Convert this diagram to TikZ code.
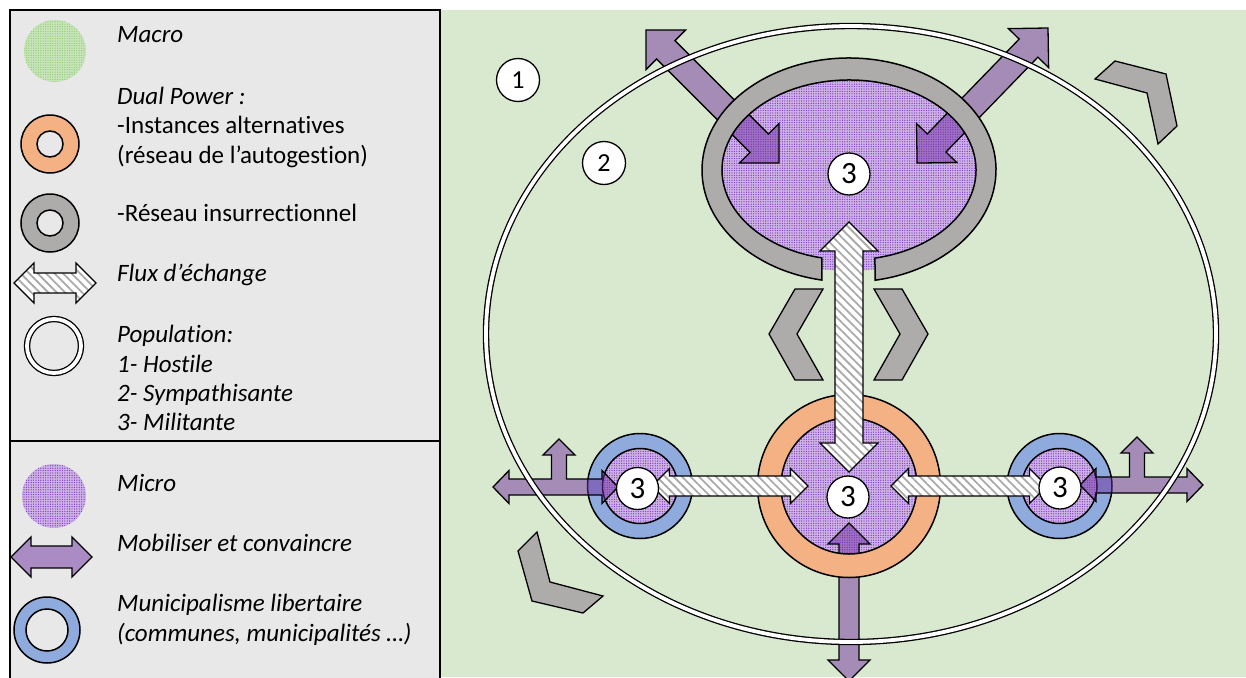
\documentclass[tikz,border=0pt]{standalone}
\usepackage{fontspec}
\setmainfont{Carlito}[Ligatures={NoCommon}]
\usetikzlibrary{patterns.meta,calc}

\definecolor{bgGreen}{RGB}{217,233,207}
\definecolor{legGray}{RGB}{232,232,232}
\definecolor{ringGray}{RGB}{174,171,171}
\definecolor{ringOrange}{RGB}{244,177,131}
\definecolor{ringBlue}{RGB}{143,170,220}
\definecolor{mobPurple}{RGB}{112,48,160}
\definecolor{microBase}{RGB}{206,178,234}
\definecolor{microDot}{RGB}{125,55,185}
\definecolor{macroBase}{RGB}{200,228,186}
\definecolor{macroDot}{RGB}{140,200,110}
\definecolor{hatchGray}{RGB}{170,170,170}

% horizontal double block arrow: style, left tip x, right tip x, y, shaft half width, head half width
\newcommand\hblock[6]{%
  \path[#1] (#2,#4) -- ({#2+#6},{#4-#6}) -- ({#2+#6},{#4-#5}) -- ({#3-#6},{#4-#5})
    -- ({#3-#6},{#4-#6}) -- (#3,#4) -- ({#3-#6},{#4+#6}) -- ({#3-#6},{#4+#5})
    -- ({#2+#6},{#4+#5}) -- ({#2+#6},{#4+#6}) -- cycle;}
% vertical double block arrow: style, x, top tip y, bottom tip y, shaft half width, head half width
\newcommand\vblock[6]{%
  \path[#1] (#2,#3) -- ({#2+#6},{#3+#6}) -- ({#2+#5},{#3+#6}) -- ({#2+#5},{#4-#6})
    -- ({#2+#6},{#4-#6}) -- (#2,#4) -- ({#2-#6},{#4-#6}) -- ({#2-#5},{#4-#6})
    -- ({#2-#5},{#3+#6}) -- ({#2-#6},{#3+#6}) -- cycle;}
% slanted double block arrow: style, start tip, rotation, length, shaft half width, head half width
\newcommand\dblock[6]{%
  \path[#1, shift={#2}, rotate=#3] (0,0) -- (#6,-#6) -- (#6,-#5) -- ({#4-#6},-#5)
    -- ({#4-#6},-#6) -- (#4,0) -- ({#4-#6},#6) -- ({#4-#6},#5) -- (#6,#5) -- (#6,#6) -- cycle;}

\begin{document}
\begin{tikzpicture}[x=1pt,y=-1pt,
  edge/.style={draw=black, line width=1.3pt},
  ring/.style={edge, line width=1.5pt, even odd rule},
  microfill/.style={fill=microBase, postaction={pattern={Dots[distance=2.4pt,radius=0.65pt]}, pattern color=microDot}},
  macrofill/.style={fill=macroBase, postaction={pattern={Dots[distance=2.4pt,radius=0.6pt]}, pattern color=macroDot}},
  mobarrow/.style={edge, fill=mobPurple, fill opacity=0.5},
  fluxarrow/.style={edge, preaction={fill=white}, pattern={Lines[angle=-45,distance=6pt,line width=1.8pt]}, pattern color=hatchGray},
  chev/.style={edge, fill=ringGray},
  popline/.style={draw=black, line width=1.3pt, double=white, double distance=3.8pt},
  numc/.style={circle, edge, fill=white, minimum size=42pt, inner sep=0pt, font=\fontsize{31}{31}\selectfont},
  popc/.style={circle, edge, fill=white, minimum size=43pt, inner sep=0pt, font=\fontsize{26}{26}\selectfont},
  legtext/.style={anchor=base west, inner sep=0pt, font=\fontsize{25}{28}\selectfont},
  legital/.style={anchor=base west, inner sep=0pt, font=\fontsize{25}{28}\selectfont\itshape}]

\useasboundingbox (0,0) rectangle (1246,677);
\fill[white] (0,0) rectangle (1246,677);
\fill[bgGreen] (440,10) rectangle (1246,677);

% ---------- legend panel ----------
\draw[fill=legGray, line width=1.3pt] (10,10) rectangle (440,690);
\draw[line width=1.3pt] (10,441) -- (440,441);

\path[macrofill] (55,51) circle[radius=31];
\path[ring, fill=ringOrange] (50,144) circle[radius=29] (50,144) circle[radius=13];
\path[ring, fill=ringGray] (50,223) circle[radius=29] (50,223) circle[radius=13];
\hblock{fluxarrow}{14}{96}{283}{10}{20}
\draw[popline] (54,346) circle[radius=27];
\path[microfill] (54,496) circle[radius=32];
\hblock{mobarrow}{11}{92}{557}{11}{20}
\path[ring, fill=ringBlue] (47,630) circle[radius=33] (47,630) circle[radius=21];

\node[legital] (tMacro) at (117,43) {Macro};
\node[legital] (tDual) at (117,104) {Dual Power :};
\node[legtext] (tInst) at (117,133) {-Instances alternatives};
\node[legtext] (tAuto) at (117,163) {(réseau de l’autogestion)};
\node[legtext] (tInsur) at (117,221) {-Réseau insurrectionnel};
\node[legital] (tFlux) at (117,281) {Flux d’échange};
\node[legital] (tPop) at (117,342) {Population:};
\node[legital] (tHost) at (117,372) {1- Hostile};
\node[legital] (tSymp) at (117,401) {2- Sympathisante};
\node[legital] (tMili) at (117,430) {3- Militante};
\node[legital] (tMicro) at (117,491) {Micro};
\node[legital] (tMob) at (117,551) {Mobiliser et convaincre};
\node[legital] (tMuni) at (117,611) {Municipalisme libertaire};
\node[legital] (tComm) at (117,641) {(communes, municipalités …)};

% ---------- insurrectional network (top) ----------
\path[microfill] (849,170) ellipse[x radius=137, y radius=101];
\dblock{mobarrow}{(646,30)}{-45}{188.1}{13}{28}
\dblock{mobarrow}{(1048,28)}{-134.1}{188.1}{13}{28}
\path[ring, fill=ringGray] (849,170) ++(100.6:147 and 112)
  arc[start angle=100.6, end angle=439.8, x radius=147, y radius=112]
  -- ($(849,170)+(78.2:127 and 90)$)
  arc[start angle=438.2, end angle=102.3, x radius=127, y radius=90]
  -- cycle;

% chevrons
\path[chev] (795,289) -- (823,289) -- (797,334) -- (823,380) -- (795,380) -- (769,334) -- cycle;
\path[chev] (874,289) -- (902,289) -- (928,334) -- (902,380) -- (874,380) -- (900,334) -- cycle;
\path[chev] (1095,79) -- (1115,61) -- (1166,74) -- (1177,126) -- (1158,144) -- (1147,93) -- cycle;
\path[chev] (518,551) -- (537,532) -- (550,582) -- (603,596) -- (583,613) -- (532,601) -- cycle;

% ---------- alternative institutions (centre) ----------
\path[microfill] (849,486) circle[radius=80];
\vblock{mobarrow}{849}{523}{681}{10}{21}
\path[ring, fill=ringOrange] (849,486) circle[radius=91.5] (849,486) circle[radius=68];

% ---------- libertarian municipalities ----------
\path[microfill] (640,486) circle[radius=45];
\path[ring, fill=ringBlue] (640,486) circle[radius=52.5] (640,486) circle[radius=37.5];
\path[microfill] (1059.5,486) circle[radius=45];
\path[ring, fill=ringBlue] (1059.5,486) circle[radius=52.5] (1059.5,486) circle[radius=37.5];

\path[mobarrow] (493,487) -- (509,470.5) -- (509,479) -- (551.5,479) -- (551.5,455) -- (543,455)
  -- (559,439) -- (575,455) -- (566.5,455) -- (566.5,479) -- (602,479) -- (602,470.5)
  -- (618,487) -- (602,503.5) -- (602,495) -- (509,495) -- (509,503.5) -- cycle;
\path[mobarrow] (1203,485) -- (1187,468.5) -- (1187,477) -- (1144.5,477) -- (1144.5,453) -- (1153,453)
  -- (1137,437) -- (1121,453) -- (1129.5,453) -- (1129.5,477) -- (1096,477) -- (1096,468.5)
  -- (1080,485) -- (1096,501.5) -- (1096,493) -- (1187,493) -- (1187,501.5) -- cycle;

% exchange flows
\vblock{fluxarrow}{849}{222}{472}{14}{29}
\hblock{fluxarrow}{652}{808}{486}{10}{17.5}
\hblock{fluxarrow}{891}{1047}{486}{10}{17.5}

% ---------- population ----------
\draw[popline] (851,334) ellipse[x radius=365, y radius=308];

\node[popc] (p1) at (518,80) {1};
\node[popc] (p2) at (604,163) {2};
\node[numc] (mTop) at (849,174) {3};
\node[numc] (mCentre) at (848,497) {3};
\node[numc] (mLeft) at (637.5,488.5) {3};
\node[numc] (mRight) at (1060,488) {3};
\end{tikzpicture}
\end{document}
